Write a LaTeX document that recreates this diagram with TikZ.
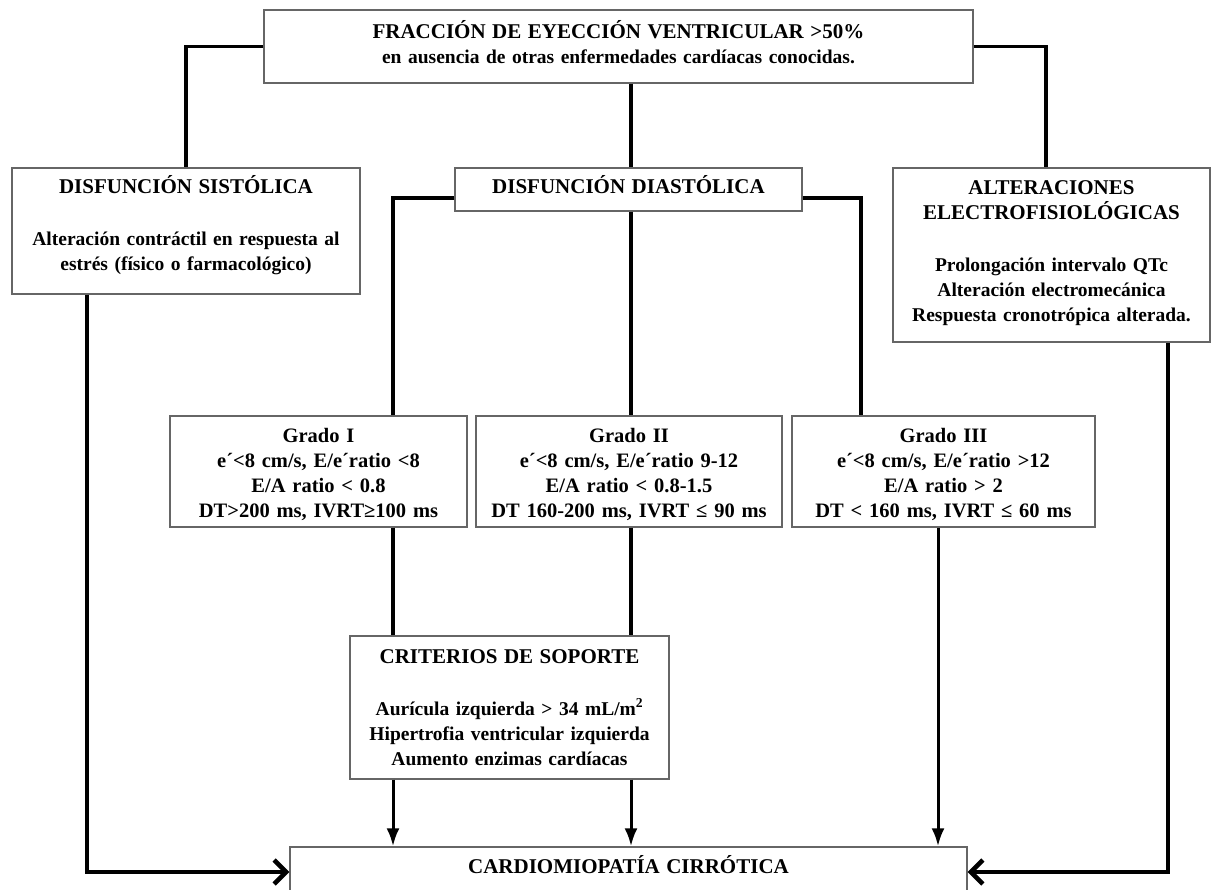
\documentclass[tikz,border=0pt]{standalone}
\usepackage{fontspec}
\setmainfont{Liberation Serif}
\usetikzlibrary{arrows.meta}
\usetikzlibrary{calc}

\newcommand{\titulo}[1]{{\fontsize{21}{25}\selectfont #1}}

\begin{document}
\begin{tikzpicture}[x=1pt,y=-1pt,
  box/.style={draw=black!60, line width=1.4pt, align=center, inner sep=0pt,
    font=\bfseries\fontsize{19.5}{25}\selectfont},
  grado/.style={box, minimum height=111pt, font=\bfseries\fontsize{20.5}{25}\selectfont, lift=-6pt},
  lift/.style={execute at end node={\endgraf\vspace{#1}}},
  link/.style={line width=3.5pt},
  down/.style={line width=3pt, -{Latex[length=18pt,width=13pt]}},
  side/.style={line width=4.5pt, -{Straight Barb[length=12pt,width=24pt]}}]
  \useasboundingbox (0,0) rectangle (1213,890);

  % columnas y filas de las lineas
  \coordinate (xL) at (87,0);
  \coordinate (xA) at (393,0);
  \coordinate (xB) at (631,0);
  \coordinate (xD) at (861,0);
  \coordinate (xC) at (938,0);
  \coordinate (xE) at (1046,0);
  \coordinate (xR) at (1168,0);
  \coordinate (yD) at (0,198);

  % cajas
  \node[box, minimum width=709pt, minimum height=73pt, text width=690pt, lift=9pt] (fev) at (618.5,46.5)
    {\titulo{FRACCIÓN DE EYECCIÓN VENTRICULAR >50\%}\\ en ausencia de otras enfermedades cardíacas conocidas.};
  \node[box, minimum width=348pt, minimum height=126pt, text width=340pt, lift=12pt] (sis) at (186,231)
    {\titulo{DISFUNCIÓN SISTÓLICA}\\[27pt] Alteración contráctil en respuesta al\\ estrés (físico o farmacológico)};
  \node[box, minimum width=347pt, minimum height=43pt, text width=340pt, lift=10pt] (dia) at (628.5,189.5)
    {\titulo{DISFUNCIÓN DIASTÓLICA}};
  \node[box, minimum width=317pt, minimum height=174pt, text width=310pt, lift=4pt] (alt) at (1051.5,255)
    {\titulo{ALTERACIONES}\\ \titulo{ELECTROFISIOLÓGICAS}\\[27pt] Prolongación intervalo QTc\\
     Alteración electromecánica\\ Respuesta cronotrópica alterada.};
  \node[grado, minimum width=297pt, text width=290pt] (g1) at (318.5,471.5)
    {Grado I\\ e´<8 cm/s, E/e´ratio <8\\ E/A ratio < 0.8\\ DT>200 ms, IVRT≥100 ms};
  \node[grado, minimum width=306pt, text width=300pt] (g2) at (629,471.5)
    {Grado II\\ e´<8 cm/s, E/e´ratio 9-12\\ E/A ratio < 0.8-1.5\\ DT 160-200 ms, IVRT ≤ 90 ms};
  \node[grado, minimum width=303pt, text width=296pt] (g3) at (943.5,471.5)
    {Grado III\\ e´<8 cm/s, E/e´ratio >12\\ E/A ratio > 2\\ DT < 160 ms, IVRT ≤ 60 ms};
  \node[box, minimum width=319pt, minimum height=143pt, text width=312pt, lift=0pt] (crit) at (509.5,707.5)
    {\titulo{CRITERIOS DE SOPORTE}\\[27pt] Aurícula izquierda > 34 mL/m\textsuperscript{2}\\
     Hipertrofia ventricular izquierda\\ Aumento enzimas cardíacas};
  \node[box, minimum width=677pt, minimum height=50pt, text width=660pt, lift=14pt] (card) at (628.5,872)
    {\titulo{CARDIOMIOPATÍA CIRRÓTICA}};

  % conexiones
  \draw[link] (fev.west) -| (sis.north);
  \draw[link] (fev.east) -| (alt.north -| xE);
  \draw[link] (fev.south -| xB) -- (dia.north -| xB);
  \draw[link] (dia.west |- yD) -| (g1.north -| xA);
  \draw[link] (dia.east |- yD) -| (g3.north -| xD);
  \draw[link] (dia.south -| xB) -- (g2.north -| xB);
  \draw[link] (g1.south -| xA) -- (crit.north -| xA);
  \draw[link] (g2.south -| xB) -- (crit.north -| xB);

  % flechas a la cardiomiopatia
  \draw[down] (crit.south -| xA) -- (card.north -| xA);
  \draw[down] (crit.south -| xB) -- (card.north -| xB);
  \draw[down] (g3.south -| xC) -- (card.north -| xC);
  \draw[side] (sis.south -| xL) |- (card.west);
  \draw[side] (alt.south -| xR) |- (card.east);
\end{tikzpicture}
\end{document}
